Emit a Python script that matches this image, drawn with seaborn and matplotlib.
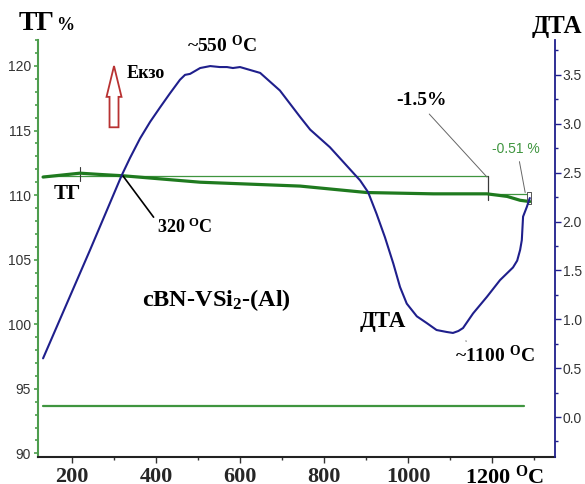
import numpy as np
import pandas as pd
import matplotlib
matplotlib.use("Agg")
import matplotlib.pyplot as plt
from matplotlib.patches import FancyArrow
from matplotlib.ticker import MultipleLocator
import seaborn as sns

# ---- data -------------------------------------------------------------
# DTA signal (right axis)
dta_temp = [131, 243, 318, 338, 362, 386, 410, 433, 457, 469, 481, 505, 529,
            552, 569, 583, 600, 648, 695, 743, 767, 814, 886, 905, 925, 945,
            965, 981, 997, 1021, 1045, 1068, 1092, 1107, 1120, 1131, 1155,
            1188, 1219, 1250, 1260, 1267, 1271, 1274, 1283, 1290]
dta_val = [0.60, 1.71, 2.47, 2.65, 2.85, 3.02, 3.17, 3.31, 3.45, 3.50, 3.51,
           3.57, 3.59, 3.58, 3.58, 3.57, 3.58, 3.52, 3.34, 3.07, 2.94, 2.76,
           2.42, 2.30, 2.08, 1.84, 1.57, 1.33, 1.16, 1.03, 0.96, 0.89, 0.87,
           0.86, 0.88, 0.91, 1.06, 1.23, 1.40, 1.53, 1.60, 1.71, 1.81, 2.05,
           2.15, 2.24]

# TG mass curve (left axis, %)
tg_temp = [131, 219, 267, 321, 505, 743, 902, 1060, 1188, 1236, 1267, 1290]
tg_val = [111.4, 111.7, 111.6, 111.5, 111.0, 110.7, 110.2, 110.1, 110.1,
          109.9, 109.6, 109.5]

# TG baseline
base_temp = [131, 1276]
base_val = [93.7, 93.7]

# mass-loss step markers
step_level = 111.5
step_end_temp = 1190
step2_level = 110.1
step2_end_temp = 1283

x_ticks = [200, 400, 600, 800, 1000, 1200]
tg_ticks = [90, 95, 100, 105, 110, 115, 120]
dta_ticks = [0.0, 0.5, 1.0, 1.5, 2.0, 2.5, 3.0, 3.5]

# ---- style ------------------------------------------------------------
sns.set_style("white")
plt.rcParams["font.family"] = ["Liberation Serif", "DejaVu Serif"]
plt.rcParams["mathtext.fontset"] = "custom"
plt.rcParams["mathtext.rm"] = "Liberation Serif:bold"
plt.rcParams["mathtext.it"] = "Liberation Serif:bold"
plt.rcParams["mathtext.bf"] = "Liberation Serif:bold"

NAVY = "#1f1f8c"
DKGREEN = "#1f7a1f"
GREEN = "#3f953f"
SPINE_GREEN = "#4d9d4d"
RED = "#b83232"
TICKTXT = "#333333"
narrow = ["Liberation Sans Narrow", "Liberation Sans", "DejaVu Sans"]

fig = plt.figure(figsize=(5.85, 4.84), dpi=100)
ax = fig.add_axes([0.065, 0.0558, 0.8837, 0.8612])
ax2 = ax.twinx()

# ---- curves -----------------------------------------------------------
sns.lineplot(x=base_temp, y=base_val, ax=ax, color=GREEN, lw=1.6)
ax.plot([base_temp[0], step_end_temp], [step_level, step_level],
        color=GREEN, lw=0.9)
ax.plot([step_end_temp, step_end_temp], [step_level, 109.6], color="#3a3a3a", lw=0.9)
ax.plot([step_end_temp, step2_end_temp], [step2_level, step2_level],
        color=GREEN, lw=0.9)
ax.plot([219, 219], [111.1, 112.2], color="#3a3a3a", lw=0.8)
sns.lineplot(x=tg_temp, y=tg_val, ax=ax, color=DKGREEN, lw=2.3)
# small end bracket
ax.plot([1283, 1283, 1293, 1293, 1283], [109.3, 110.25, 110.25, 109.3, 109.3],
        color="#555555", lw=0.7)

sns.lineplot(x=dta_temp, y=dta_val, ax=ax2, color=NAVY, lw=1.5)

# ---- axes -------------------------------------------------------------
ax.set_xlim(119, 1350)
ax.set_ylim(89.72, 122.0)
ax2.set_ylim(-0.409, 3.855)

ax.set_xticks(x_ticks)
ax.set_xticklabels([str(t) if t != 1200 else "" for t in x_ticks],
                   fontsize=16, fontweight="bold")
ax.xaxis.set_minor_locator(MultipleLocator(100))
ax.set_yticks(tg_ticks)
ax.set_yticklabels([str(t) for t in tg_ticks], fontsize=10, color=TICKTXT,
                   family=narrow)
ax.yaxis.set_minor_locator(MultipleLocator(1))
ax2.set_yticks(dta_ticks)
ax2.set_yticklabels([f"{t:.1f}" for t in dta_ticks], fontsize=10,
                    color=TICKTXT, family=narrow)
ax2.yaxis.set_minor_locator(MultipleLocator(0.25))

ax.tick_params(axis="x", which="major", direction="out", length=4, width=1,
               color="#333333", pad=3.5, bottom=True)
ax.tick_params(axis="x", which="minor", direction="out", length=2, width=1,
               color="#333333", bottom=True)
ax.tick_params(axis="y", which="major", direction="out", length=3, width=1.2,
               color=SPINE_GREEN, pad=2, left=True)
ax.tick_params(axis="y", which="minor", direction="out", length=2, width=1.2,
               color=SPINE_GREEN, left=True)
ax2.tick_params(axis="y", which="major", direction="out", length=4, width=1,
                color=NAVY, pad=1.5, right=True)
ax2.tick_params(axis="y", which="minor", direction="out", length=2.5, width=1,
                color=NAVY, right=True)

for a in (ax, ax2):
    a.spines["top"].set_visible(False)
    a.set_xlabel("")
    a.set_ylabel("")
ax.spines["right"].set_visible(False)
ax2.spines["left"].set_visible(False)
ax2.spines["bottom"].set_visible(False)
ax.spines["left"].set_color(SPINE_GREEN)
ax.spines["left"].set_linewidth(1.5)
ax.spines["bottom"].set_color("#222222")
ax.spines["bottom"].set_linewidth(1.5)
ax2.spines["right"].set_color(NAVY)
ax2.spines["right"].set_linewidth(1.3)

# ---- annotations ------------------------------------------------------
bold = dict(fontweight="bold", color="black")
fig.text(0.031, 0.938, "ТГ", fontsize=20, va="baseline", ha="left", **bold)
fig.text(0.096, 0.938, "%", fontsize=13, va="baseline", ha="left", **bold)
fig.text(0.995, 0.932, "ДТА", fontsize=18, va="baseline", ha="right", **bold)

# last x tick label carries the unit
ax.annotate(r"1200 $^{\mathrm{O}}$C", xy=(1200, 0),
            xycoords=ax.get_xaxis_transform(), xytext=(-19.5, -19.0),
            textcoords="offset points", fontsize=16, ha="left",
            va="baseline", annotation_clip=False, **bold)

ax.text(557, 121.6, r"~550 $^{\mathrm{O}}$C", fontsize=14, ha="center",
        va="center", **bold)
ax.text(329, 119.4, "Екзо", fontsize=13, ha="left", va="center", **bold)
ax.text(189, 110.1, "ТГ", fontsize=15, ha="center", va="center", **bold)
ax.text(543, 101.9, r"cBN-VSi$_{2}$-(Al)", fontsize=17.5, ha="center",
        va="center", **bold)
ax.text(940, 100.2, "ДТА", fontsize=16.5, ha="center", va="center", **bold)

ax.annotate(r"320 $^{\mathrm{O}}$C", xy=(321, 111.5), xytext=(402, 107.5),
            fontsize=13, ha="left", va="center", **bold,
            arrowprops=dict(arrowstyle="-", color="black", lw=1.2,
                            shrinkA=0, shrinkB=0, relpos=(0, 0.8)))
ax.annotate("-1.5%", xy=(1188, 111.4), xytext=(1033, 117.35), fontsize=14,
            ha="center", va="center", **bold,
            arrowprops=dict(arrowstyle="-", color="#666666", lw=0.7,
                            shrinkA=2, shrinkB=0, relpos=(0.55, 0)))
ax.annotate("-0.51 %", xy=(1279, 110.2), xytext=(1257, 113.6), fontsize=10,
            ha="center", va="center", color=GREEN, family=narrow,
            arrowprops=dict(arrowstyle="-", color="#666666", lw=0.7,
                            shrinkA=2, shrinkB=0, relpos=(0.55, 0)))
ax.annotate(r"~1100 $^{\mathrm{O}}$C", xy=(1131, 99.55), xytext=(1112, 97.6),
            fontsize=14, ha="left", va="center", **bold,
            arrowprops=dict(arrowstyle="-", color="#444444", lw=0.7,
                            shrinkA=0, shrinkB=8, relpos=(0.15, 1)))

# exothermic direction arrow
ax.add_patch(FancyArrow(0.147, 0.791, 0, 0.147, width=0.0174,
                        head_width=0.029, head_length=0.074,
                        length_includes_head=True, transform=ax.transAxes,
                        facecolor="white", edgecolor=RED, lw=1.3, zorder=5))

fig.savefig("out.png", dpi=100)
